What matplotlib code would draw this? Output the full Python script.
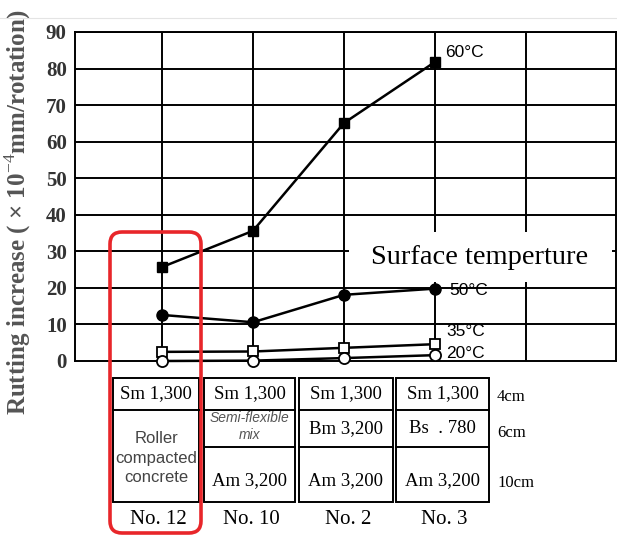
import numpy as np
import matplotlib.pyplot as plt
from matplotlib.patches import Rectangle, FancyBboxPatch

plt.rcParams['mathtext.fontset'] = 'custom'
plt.rcParams['mathtext.rm'] = 'Liberation Serif'

SERIF = 'Liberation Serif'
SANS = 'Liberation Sans'

# pavement sections and rutting increase per surface temperature
schemes = ['No. 12', 'No. 10', 'No. 2', 'No. 3']
t60 = [25.7, 35.6, 65.1, 81.8]
t50 = [12.6, 10.6, 18.1, 19.8]
t35 = [2.5, 2.6, 3.6, 4.6]
t20 = [0.0, 0.1, 0.8, 1.6]
temp_labels = ['60°C', '50°C', '35°C', '20°C']
yticks = [0, 10, 20, 30, 40, 50, 60, 70, 80, 90]

# layer table below the chart
surface_layer = ['Sm 1,300', 'Sm 1,300', 'Sm 1,300', 'Sm 1,300']
binder_layer = [None, 'Semi-flexible\nmix', 'Bm 3,200', 'Bs  . 780']
base_layer = [None, 'Am 3,200', 'Am 3,200', 'Am 3,200']
thickness = ['4cm', '6cm', '10cm']

W, H = 617, 535
fig = plt.figure(figsize=(W / 100, H / 100), dpi=100)

# main chart, pixel box: x 75..616, y 32..361
ax = fig.add_axes([75 / W, 1 - 361 / H, (616 - 75) / W, (361 - 32) / H])
x = np.arange(1, len(schemes) + 1)
ax.set_xlim(0.044, 5.99)
ax.set_ylim(0, 90)

for yy in yticks[1:]:
    ax.axhline(yy, color='black', lw=1.4, zorder=1)
for xx in range(1, 6):
    ax.axvline(xx, color='black', lw=1.4, zorder=1)
for s in ax.spines.values():
    s.set_linewidth(1.4)

ax.set_yticks(yticks)
ax.set_yticklabels([str(v) for v in yticks], fontfamily=SERIF, fontsize=15,
                   fontweight='bold', color='#333333')
ax.tick_params(axis='y', length=0, pad=6)
ax.set_xticks([])

# blank area behind the "Surface temperture" note
ax.add_patch(Rectangle((3.05, 21.6), 2.9, 13.6, facecolor='white',
                       edgecolor='none', zorder=2))
ax.text(3.3, 28.3, 'Surface temperture', fontfamily=SERIF, fontsize=20.5,
        va='center', ha='left', zorder=3)

kw = dict(color='black', lw=1.8, zorder=4, clip_on=False)
ax.plot(x, t60, marker='s', ms=7, mfc='black', mec='black', **kw)
ax.plot(x, t50, marker='o', ms=8, mfc='black', mec='black', **kw)
ax.plot(x, t35, marker='s', ms=7, mfc='white', mec='black', mew=1.3, **kw)
ax.plot(x, t20, marker='o', ms=8, mfc='white', mec='black', mew=1.3, **kw)

offsets = [(7, 7), (10, -1), (8, 9), (8, 1)]
for series, lab, off in zip([t60, t50, t35, t20], temp_labels, offsets):
    ax.annotate(lab, (x[-1], series[-1]), xytext=off, textcoords='offset points',
                fontfamily=SANS, fontsize=12.5, ha='left', va='center', zorder=5,
                annotation_clip=False)

fig.text(18 / W, 1 - 212 / H, r'Rutting increase ( × 10$^{-4}$mm/rotation)',
         rotation=90, ha='center', va='center', fontfamily=SERIF, fontsize=18,
         fontweight='bold', color='#555555')

# overlay in pixel coordinates for the layer table
ov = fig.add_axes([0, 0, 1, 1], zorder=10)
ov.set_xlim(0, W)
ov.set_ylim(H, 0)
ov.axis('off')
ov.axhline(18, color='#e4e4e4', lw=0.8)

cols = [(113, 199), (204, 295), (299, 393), (396, 489)]
rows = [378, 410, 447, 502]
for i, (x0, x1) in enumerate(cols):
    cx = (x0 + x1) / 2
    ov.add_patch(Rectangle((x0, rows[0]), x1 - x0, rows[3] - rows[0], fill=False,
                           edgecolor='black', lw=1.4))
    ov.plot([x0, x1], [rows[1], rows[1]], color='black', lw=1.4)
    ov.text(cx, (rows[0] + rows[1]) / 2, surface_layer[i], fontfamily=SERIF,
            fontsize=13.5, ha='center', va='center')
    if binder_layer[i] is None:
        ov.text(cx, (rows[1] + rows[3]) / 2 + 2, 'Roller\ncompacted\nconcrete',
                fontfamily=SANS, fontsize=12, color='#444444', ha='center',
                va='center', linespacing=1.35)
    else:
        ov.plot([x0, x1], [rows[2], rows[2]], color='black', lw=1.4)
        if '\n' in binder_layer[i]:
            ov.text(cx, (rows[1] + rows[2]) / 2 - 2, binder_layer[i], fontfamily=SANS,
                    fontsize=10, style='italic', color='#555555', ha='center',
                    va='center', linespacing=1.2)
        else:
            ov.text(cx, (rows[1] + rows[2]) / 2, binder_layer[i], fontfamily=SERIF,
                    fontsize=13.5, ha='center', va='center')
        ov.text(cx, (rows[2] + rows[3]) / 2 + 6, base_layer[i], fontfamily=SERIF,
                fontsize=13.5, ha='center', va='center')
    ov.text(cx + 2, 520, schemes[i], fontfamily=SERIF, fontsize=15,
            ha='center', va='center')

for lab, yy in zip(thickness, [397, 433, 483]):
    ov.text(497, yy, lab, fontfamily=SERIF, fontsize=12, ha='left', va='center')

ov.add_patch(FancyBboxPatch((110, 232), 91, 301,
                            boxstyle='round,pad=0,rounding_size=12',
                            fill=False, edgecolor='#e8262a', lw=2.6))

fig.savefig('out.png', dpi=100)
